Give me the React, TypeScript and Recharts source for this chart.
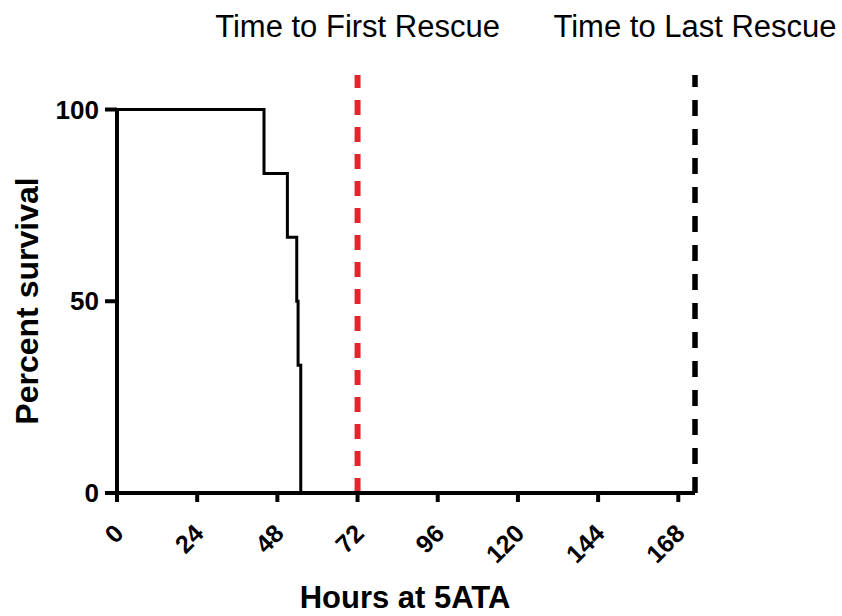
import React from "react";
import { LineChart, Line, XAxis, YAxis, ReferenceLine } from "recharts";

// Kaplan-Meier steps
const hours = [0, 44, 51, 53.8, 54.2, 55];
const survival = [100, 83.33, 66.67, 50, 33.33, 0];
const xTicks = [0, 24, 48, 72, 96, 120, 144, 168];
const yTicks = [0, 50, 100];
const firstRescue = 72;
const lastRescue = 173;

const FONT = "'Liberation Sans', Arial, sans-serif";

const data = hours.map((h, i) => ({ h, s: survival[i] }));

const XTick = (props: any) => {
    const { x, y, payload } = props;
    const ax = x + 8;
    const ay = y + 31;
    return (
        <text
            x={ax}
            y={ay}
            transform={`rotate(-45, ${ax}, ${ay})`}
            textAnchor="end"
            fontSize={25}
            fontWeight="bold"
            fontFamily={FONT}
            fill="#000"
        >
            {payload.value}
        </text>
    );
};

const YLabel = (props: any) => {
    const { viewBox } = props;
    const cx = viewBox.x - 30;
    const cy = 301;
    return (
        <text
            x={cx}
            y={cy}
            transform={`rotate(-90, ${cx}, ${cy})`}
            textAnchor="middle"
            dominantBaseline="central"
            fontSize={32}
            fontWeight="bold"
            fontFamily={FONT}
            fill="#000"
        >
            Percent survival
        </text>
    );
};

const XLabel = (props: any) => {
    const { viewBox } = props;
    return (
        <text
            x={405}
            y={viewBox.y + viewBox.height + 35}
            textAnchor="middle"
            fontSize={31}
            fontWeight="bold"
            fontFamily={FONT}
            fill="#000"
        >
            Hours at 5ATA
        </text>
    );
};

export default function App() {
    return (
        <div style={{ position: "absolute", left: 0, top: 0, width: 842, height: 616, background: "#fff" }}>
            <LineChart
                width={842}
                height={616}
                data={data}
                margin={{ top: 75, right: 147, bottom: 43, left: 57 }}
            >
                <XAxis
                    dataKey="h"
                    type="number"
                    domain={[0, 173]}
                    ticks={xTicks}
                    interval={0}
                    height={80}
                    tickSize={9}
                    tickMargin={2}
                    axisLine={{ stroke: "#000", strokeWidth: 4 }}
                    tickLine={{ stroke: "#000", strokeWidth: 4 }}
                    tick={<XTick />}
                    label={<XLabel />}
                />
                <YAxis
                    type="number"
                    domain={[0, 109]}
                    ticks={yTicks}
                    interval={0}
                    width={60}
                    tickSize={12}
                    tickMargin={6}
                    axisLine={false}
                    tickLine={{ stroke: "#000", strokeWidth: 4 }}
                    tick={{ fontSize: 26, fontWeight: "bold", fill: "#000", fontFamily: FONT }}
                    label={<YLabel />}
                />
                <ReferenceLine
                    segment={[{ x: 0, y: 0 }, { x: 0, y: 100 }]}
                    stroke="#000"
                    strokeWidth={4}
                />
                <ReferenceLine
                    x={firstRescue}
                    stroke="#e3262b"
                    strokeWidth={6}
                    strokeDasharray="15 12"
                    label={{
                        value: "Time to First Rescue",
                        position: "top",
                        offset: 38,
                        fontSize: 31,
                        fill: "#000",
                        fontFamily: FONT,
                    }}
                />
                <ReferenceLine
                    x={lastRescue}
                    stroke="#000"
                    strokeWidth={5.5}
                    strokeDasharray="16 13"
                    label={{
                        value: "Time to Last Rescue",
                        position: "top",
                        offset: 38,
                        fontSize: 31,
                        fill: "#000",
                        fontFamily: FONT,
                    }}
                />
                <Line
                    type="stepAfter"
                    dataKey="s"
                    stroke="#000"
                    strokeWidth={3}
                    dot={false}
                    isAnimationActive={false}
                />
            </LineChart>
        </div>
    );
}
